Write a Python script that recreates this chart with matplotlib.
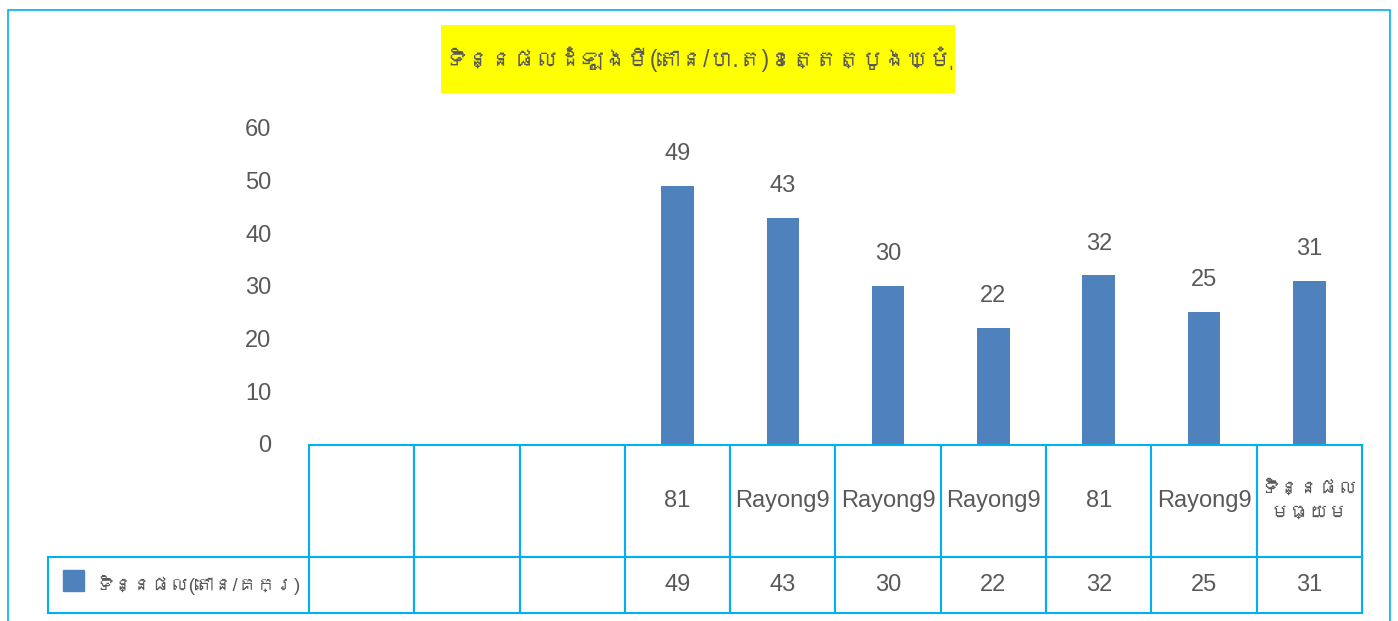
import matplotlib
matplotlib.use("Agg")
import matplotlib.pyplot as plt
from matplotlib import font_manager
from matplotlib.ft2font import FT2Font
from matplotlib.patches import Rectangle

title = "ទិន្នផលដំឡូងមី(តោន/ហ.ត)ខេត្តត្បូងឃ្មុំ"
series_name = "ទិន្នផល(តោន/គក្រ)"
categories = ["", "", "", "81", "Rayong9", "Rayong9", "Rayong9", "81", "Rayong9", "ទិន្នផល\nមធ្យម"]
values = [None, None, None, 49, 43, 30, 22, 32, 25, 31]
yticks = [0, 10, 20, 30, 40, 50, 60]

BAR = "#4F81BD"
LINE = "#00B0F0"
TEXT = "#595959"


def find_khmer_font():
  # look for any installed font that actually has Khmer glyphs
  for f in font_manager.fontManager.ttflist:
    try:
      if 0x1780 in FT2Font(f.fname).get_charmap():
        return f.name
    except Exception:
      pass
  return None


khmer = find_khmer_font()
fams = ["Liberation Sans", "DejaVu Sans"]
if khmer:
  fams = fams[:1] + [khmer] + fams[1:]
plt.rcParams["font.family"] = fams

W, H = 1398, 621
fig = plt.figure(figsize=(W / 100, H / 100), dpi=100)

# outer frame
fig.add_artist(Rectangle((8 / W, -0.02), (1390 - 8) / W, 1.02 - 10 / H,
                         transform=fig.transFigure, fill=False, edgecolor=LINE, lw=1.2))

# plot area in pixels
left, right, top, bottom = 309, 1362, 128, 444
aw, ah = right - left, bottom - top
ax = fig.add_axes([left / W, 1 - bottom / H, aw / W, ah / H])

x = list(range(len(categories)))
heights = [v if v is not None else 0 for v in values]
ax.bar(x, heights, width=0.31, color=BAR)
for xi, v in zip(x, values):
  if v is not None:
    ax.annotate(str(v), (xi, v), xytext=(0, 15), textcoords="offset points",
                ha="center", va="bottom", fontsize=17, color=TEXT)

ax.set_xlim(-0.5, len(categories) - 0.5)
ax.set_ylim(0, 60)
ax.set_yticks(yticks)
ax.set_xticks([])
ax.tick_params(axis="y", length=0, pad=27, labelsize=17, labelcolor=TEXT)
for s in ax.spines.values():
  s.set_visible(False)

# data table under the axis; sizes in axes units so the bbox does not rescale
label_w = (309 - 48) / aw
cell_text = [["" if v is None else str(v) for v in values]]
tbl = ax.table(cellText=cell_text, rowLabels=[series_name], colLabels=categories,
               cellLoc="center", rowLoc="left",
               bbox=[0, (bottom - 613) / ah, 1, (613 - 445) / ah])
tbl._autoColumns = []  # keep the row label column at a fixed width
tbl.auto_set_font_size(False)
tbl.set_fontsize(17)
for (r, c), cell in tbl.get_celld().items():
  cell.set_edgecolor(LINE)
  cell.set_linewidth(1.5)
  cell.get_text().set_color(TEXT)
  cell.set_width(label_w if c == -1 else 1 / len(categories))
  cell.set_height((112 if r == 0 else 56) / ah)
  if c == -1:
    cell.PAD = 0.18
    cell.get_text().set_fontsize(13.5)
  if r == 0 and "\n" in categories[c]:
    cell.get_text().set_fontsize(14)
    cell.get_text().set_linespacing(1.6)

# legend key inside the row label cell
fig.add_artist(Rectangle((63 / W, 1 - 591 / H), 21 / W, 21 / H,
                         transform=fig.transFigure, color=BAR))

# title on a yellow band
fig.add_artist(Rectangle((441 / W, 1 - 93 / H), (955 - 441) / W, (93 - 25) / H,
                         transform=fig.transFigure, facecolor="#FFFF00", edgecolor="none"))
fig.text(698 / W, 1 - 59 / H, title, ha="center", va="center", fontsize=16.5, color=TEXT)

fig.savefig("out.png", dpi=100)
